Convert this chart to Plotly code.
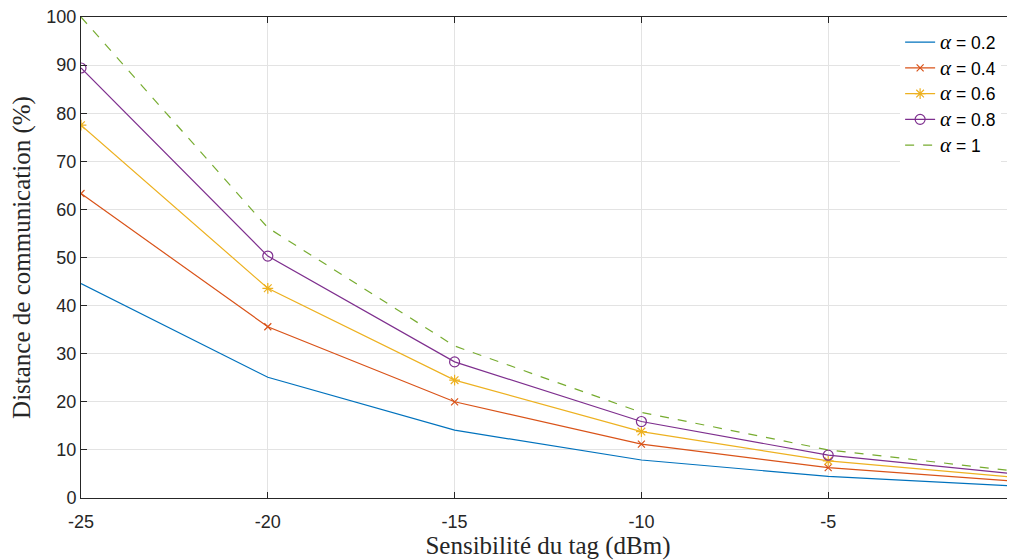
import plotly.graph_objects as go

sensibilite = [-25, -20, -15, -10, -5, 0]
x_tick_labels = ["-25", "-20", "-15", "-10", "-5", "0"]
alpha_labels = ["0.2", "0.4", "0.6", "0.8", "1"]
d_02 = [44.6, 25.1, 14.1, 7.9, 4.5, 2.5]
d_04 = [63.3, 35.6, 20.0, 11.2, 6.3, 3.5]
d_06 = [77.5, 43.6, 24.5, 13.8, 7.7, 4.3]
d_08 = [89.4, 50.3, 28.3, 15.9, 8.9, 5.0]
d_10 = [100.0, 56.2, 31.6, 17.8, 10.0, 5.6]

series = [d_02, d_04, d_06, d_08, d_10]
colors = ["#0072BD", "#D95319", "#EDB120", "#7E2F8E", "#77AC30"]
symbols = [None, "x-thin-open", "asterisk-open", "circle-open", None]
sizes = [0, 7, 9, 10, 0]
dashes = ["solid", "solid", "solid", "solid", "dash"]

fig = go.Figure()
for lab, ys, c, sym, sz, dsh in zip(alpha_labels, series, colors, symbols, sizes, dashes):
    mode = "lines+markers" if sym else "lines"
    marker = dict(symbol=sym, size=sz, color=c, line=dict(color=c, width=1.2)) if sym else None
    fig.add_trace(go.Scatter(
        x=sensibilite, y=ys, mode=mode,
        name="<span style='font-family:Liberation Serif;font-style:italic;font-size:21px'>α</span> = " + lab,
        line=dict(color=c, width=1.2, dash=dsh),
        marker=marker,
    ))

axis_common = dict(
    showline=True, linecolor="#262626", linewidth=1, mirror="allticks",
    ticks="inside", ticklen=6, tickcolor="#262626",
    showgrid=True, gridcolor="#e3e3e3", gridwidth=1, zeroline=False,
    automargin=False, ticklabeloverflow="allow",
    tickfont=dict(family="Liberation Sans, Arial", size=18, color="#262626"),
)

fig.update_layout(
    width=1015, height=560,
    margin=dict(l=73, r=8, t=9, b=70),
    paper_bgcolor="white", plot_bgcolor="white",
    xaxis=dict(range=[-25, 0], tickvals=sensibilite, ticktext=x_tick_labels,
               ticklabelstandoff=7,
               title=dict(text="Sensibilité du tag (dBm)", standoff=0,
                          font=dict(family="Liberation Serif, Times New Roman", size=25, color="#262626")),
               **axis_common),
    yaxis=dict(range=[0, 100], tickvals=list(range(0, 101, 10)),
               title=dict(text="Distance de communication (%)", standoff=16,
                          font=dict(family="Liberation Serif, Times New Roman", size=25, color="#262626")),
               **axis_common),
    legend=dict(x=0.877, y=0.985, xanchor="left", yanchor="top",
                bgcolor="white", bordercolor="white", borderwidth=0,
                font=dict(family="Liberation Sans, Arial", size=17.5, color="#000000"),
                itemwidth=30, tracegroupgap=0),
    showlegend=True,
)

fig.write_html("out.html")
